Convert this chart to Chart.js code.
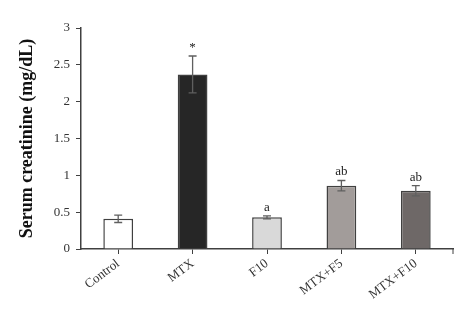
<!DOCTYPE html>
<html>
<head>
<meta charset="utf-8">
<script src="https://cdn.jsdelivr.net/npm/chart.js@4"></script>
<style>
  html, body { margin: 0; padding: 0; background: #fff; }
  #wrap { width: 476px; height: 322px; }
</style>
</head>
<body>
<div id="wrap"><canvas id="chartCreatinine"></canvas></div>
<script>
// Serum creatinine per group
const groups = ["Control", "MTX", "F10", "MTX+F5", "MTX+F10"];
const meanValues = [0.41, 2.37, 0.43, 0.86, 0.79];
const errorValues = [0.05, 0.25, 0.02, 0.07, 0.07];
const markLetters = ["", "*", "a", "ab", "ab"];
const barColors = ["#ffffff", "#262626", "#d9d9d9", "#a29c9a", "#6e6867"];
const yTickValues = [0, 0.5, 1, 1.5, 2, 2.5, 3];

const serif = "'Liberation Serif', 'DejaVu Serif', serif";

// error bars with caps plus the significance letters above them
const errorBarPlugin = {
  id: "errorBars",
  afterDatasetsDraw(chart) {
    const ctx = chart.ctx;
    const yScale = chart.scales.y;
    const meta = chart.getDatasetMeta(0);
    ctx.save();
    meta.data.forEach((bar, i) => {
      const x = bar.x;
      const top = yScale.getPixelForValue(meanValues[i] + errorValues[i]);
      const bottom = yScale.getPixelForValue(meanValues[i] - errorValues[i]);
      ctx.strokeStyle = "#5f5f5f";
      ctx.lineWidth = 1.3;
      ctx.beginPath();
      ctx.moveTo(x, top);
      ctx.lineTo(x, bottom);
      ctx.moveTo(x - 4, top);
      ctx.lineTo(x + 4, top);
      ctx.moveTo(x - 4, bottom);
      ctx.lineTo(x + 4, bottom);
      ctx.stroke();

      if (markLetters[i]) {
        ctx.fillStyle = "#222";
        ctx.font = "13px " + serif;
        ctx.textAlign = "center";
        ctx.textBaseline = "alphabetic";
        ctx.fillText(markLetters[i], x, top - 5);
      }
    });

    // closing tick at the right end of the x axis
    const area = chart.chartArea;
    ctx.strokeStyle = "#404040";
    ctx.lineWidth = 1;
    ctx.beginPath();
    ctx.moveTo(area.right, area.bottom);
    ctx.lineTo(area.right, area.bottom + 5);
    ctx.stroke();
    ctx.restore();
  },
};

const ctxBar = document.getElementById("chartCreatinine").getContext("2d");

const dataCreatinine = {
  labels: groups,
  datasets: [
    {
      data: meanValues,
      backgroundColor: barColors,
      borderColor: "#404040",
      borderWidth: 1.5,
      barPercentage: 0.8,
      categoryPercentage: 0.5,
    },
  ],
};

const optionsCreatinine = {
  responsive: true,
  maintainAspectRatio: false,
  animation: false,
  layout: {
    padding: { top: 28, right: 23, left: 17, bottom: 0 },
  },
  plugins: {
    legend: { display: false },
    tooltip: { enabled: false },
  },
  scales: {
    x: {
      afterFit(scale) {
        scale.height = 73;
      },
      grid: {
        offset: false,
        drawOnChartArea: false,
        color: "#404040",
        tickLength: 5,
      },
      border: { color: "#404040", width: 1.5 },
      ticks: {
        color: "#333",
        font: { family: serif, size: 13 },
        minRotation: 37,
        maxRotation: 37,
        padding: 2,
      },
    },
    y: {
      min: 0,
      max: 3,
      afterBuildTicks(scale) {
        scale.ticks = yTickValues.map((v) => ({ value: v }));
      },
      afterFit(scale) {
        scale.width = 64;
      },
      grid: {
        drawOnChartArea: false,
        color: "#404040",
        tickLength: 5,
      },
      border: { color: "#404040", width: 1.5 },
      ticks: {
        color: "#333",
        font: { family: serif, size: 13 },
        padding: 6,
        callback: (v) => String(v),
      },
      title: {
        display: true,
        text: "Serum creatinine (mg/dL)",
        color: "#111",
        font: { family: serif, size: 18, weight: "bold" },
        padding: { top: 0, bottom: 10 },
      },
    },
  },
};

new Chart(ctxBar, {
  type: "bar",
  data: dataCreatinine,
  options: optionsCreatinine,
  plugins: [errorBarPlugin],
});
</script>
</body>
</html>
